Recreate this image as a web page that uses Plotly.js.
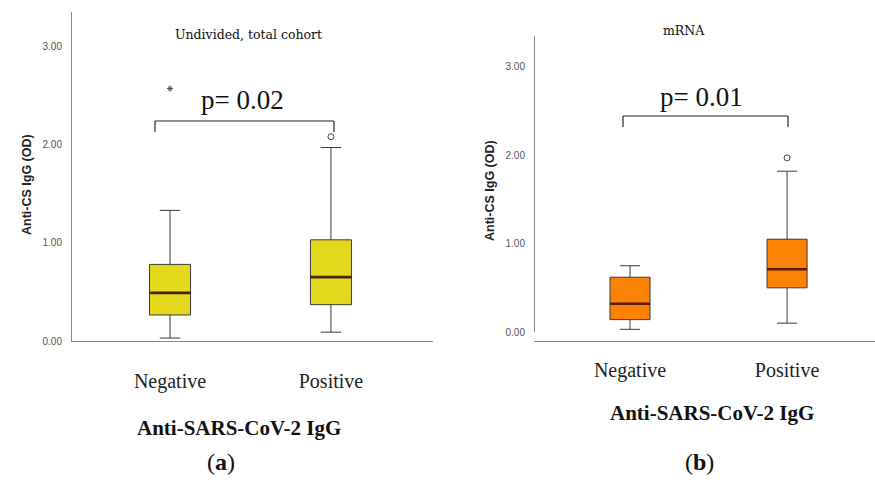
<!DOCTYPE html>
<html>
<head>
<meta charset="utf-8">
<script src="https://cdn.plot.ly/plotly-3.0.1.min.js"></script>
<style>html,body{margin:0;padding:0;background:#fff;}#chart{width:875px;height:480px;}</style>
</head>
<body>
<div id="chart"></div>
<script>
// Categories and tick labels
const categories = ["Negative", "Positive"];
const yTickVals = [0, 1, 2, 3];
const yTickText = ["0.00", "1.00", "2.00", "3.00"];

// Panel (a): Undivided, total cohort
const aLower  = [0.03, 0.09];
const aQ1     = [0.265, 0.37];
const aMedian = [0.49, 0.65];
const aQ3     = [0.78, 1.03];
const aUpper  = [1.33, 1.97];
const aOutlierCircle = [null, 2.08];   // mild outlier (circle)
const aOutlierStar   = [2.57, null];   // extreme outlier (asterisk)

// Panel (b): mRNA
const bLower  = [0.03, 0.10];
const bQ1     = [0.14, 0.50];
const bMedian = [0.32, 0.71];
const bQ3     = [0.62, 1.05];
const bUpper  = [0.75, 1.82];
const bOutlierCircle = [null, 1.97];

const pValues = ["p= 0.02", "p= 0.01"];
const panelTitles = ["Undivided, total cohort", "mRNA"];
const yTitle = "Anti-CS IgG (OD)";
const xTitle = "Anti-SARS-CoV-2 IgG";
const panelLabels = ["(<b>a</b>)", "(<b>b</b>)"];

const xpos = categories.map((c, i) => i);
const BOXW = 0.255;

function boxTrace(q1, med, q3, lo, hi, fill, xa, ya) {
  return {
    type: "box", x: xpos, q1: q1, median: med, q3: q3,
    lowerfence: lo, upperfence: hi,
    width: BOXW, whiskerwidth: 0.5,
    fillcolor: fill, line: {color: "#3a3a3a", width: 1},
    boxpoints: false, hoverinfo: "skip", showlegend: false,
    xaxis: xa, yaxis: ya
  };
}
function medianTrace(med, color, xa, ya) {
  const xs = [], ys = [];
  med.forEach((m, i) => { xs.push(i - BOXW / 2, i + BOXW / 2, null); ys.push(m, m, null); });
  return {type: "scatter", mode: "lines", x: xs, y: ys, line: {color: color, width: 2.6},
          hoverinfo: "skip", showlegend: false, xaxis: xa, yaxis: ya};
}
function pointTrace(vals, symbol, size, xa, ya) {
  return {type: "scatter", mode: "markers", x: xpos, y: vals,
          marker: {symbol: symbol, size: size, color: "#444", line: {color: "#444", width: 1}},
          hoverinfo: "skip", showlegend: false, xaxis: xa, yaxis: ya};
}

const data = [
  boxTrace(aQ1, aMedian, aQ3, aLower, aUpper, "#E6D81C", "x", "y"),
  medianTrace(aMedian, "#3a2c00", "x", "y"),
  pointTrace(aOutlierCircle, "circle-open", 6, "x", "y"),
  pointTrace(aOutlierStar, "asterisk-open", 5, "x", "y"),
  boxTrace(bQ1, bMedian, bQ3, bLower, bUpper, "#FB8204", "x2", "y2"),
  medianTrace(bMedian, "#5a1800", "x2", "y2"),
  pointTrace(bOutlierCircle, "circle-open", 6, "x2", "y2")
];

const catFont = {family: "Liberation Serif, serif", size: 20, color: "#222"};
const yTickFont = {family: "Liberation Sans, Arial, sans-serif", size: 10, color: "#555"};

function xAxis(domain, range, standoff) {
  return {domain: domain, range: range, tickvals: xpos, ticktext: categories,
          showline: true, linecolor: "#8a8a8a", linewidth: 1, showgrid: false, zeroline: false,
          ticks: "", tickfont: catFont, ticklabelstandoff: standoff, fixedrange: true};
}
function yAxis(domain, anchor) {
  return {domain: domain, range: [0, 3.35], tickvals: yTickVals, ticktext: yTickText,
          showline: true, linecolor: "#8a8a8a", linewidth: 1, showgrid: false, zeroline: false,
          ticks: "", tickfont: yTickFont, ticklabelstandoff: 7, anchor: anchor, fixedrange: true};
}

const W = 875, H = 480;
const px = v => v / W, py = v => 1 - v / H;

function bracket(x0, x1, yTop, yBot) {
  return [
    {type: "line", xref: "paper", yref: "paper", x0: px(x0), x1: px(x1), y0: py(yTop), y1: py(yTop), line: {color: "#222", width: 1.2}},
    {type: "line", xref: "paper", yref: "paper", x0: px(x0), x1: px(x0), y0: py(yTop), y1: py(yBot), line: {color: "#222", width: 1.2}},
    {type: "line", xref: "paper", yref: "paper", x0: px(x1), x1: px(x1), y0: py(yTop), y1: py(yBot), line: {color: "#222", width: 1.2}}
  ];
}

function ann(text, x, y, font, extra) {
  return Object.assign({text: text, xref: "paper", yref: "paper", x: px(x), y: py(y),
    xanchor: "center", yanchor: "middle", showarrow: false, font: font}, extra || {});
}

const smallTitleFont = {family: "DejaVu Serif, serif", size: 12.5, color: "#111"};
const pFont = {family: "Liberation Serif, serif", size: 27, color: "#111"};
const yTitleFont = {family: "Liberation Sans, Arial, sans-serif", size: 12.5, color: "#222"};
const xTitleFont = {family: "Liberation Serif, serif", size: 21, color: "#111"};
const labelFont = {family: "Liberation Serif, serif", size: 24, color: "#111"};

const layout = {
  width: W, height: H,
  margin: {l: 0, r: 0, t: 0, b: 0},
  paper_bgcolor: "#fff", plot_bgcolor: "#fff",
  showlegend: false,
  xaxis: xAxis([px(72), px(433)], [-0.609, 1.634], 22),
  yaxis: yAxis([py(341), py(12)], "x"),
  xaxis2: xAxis([px(535), 1], [-0.605, 1.56], 11),
  yaxis2: yAxis([py(332), py(36)], "x2"),
  shapes: [].concat(bracket(155, 334, 121, 132), bracket(623, 788, 116, 127)),
  annotations: [
    ann(panelTitles[0], 248, 35, smallTitleFont),
    ann(panelTitles[1], 684, 30, smallTitleFont),
    ann(pValues[0], 242, 100, pFont),
    ann(pValues[1], 701, 97, pFont),
    ann("<b>" + yTitle + "</b>", 27, 185, yTitleFont, {textangle: -90}),
    ann("<b>" + yTitle + "</b>", 490, 191, yTitleFont, {textangle: -90}),
    ann("<b>" + xTitle + "</b>", 239, 428, xTitleFont),
    ann("<b>" + xTitle + "</b>", 712, 413, xTitleFont),
    ann(panelLabels[0], 221, 462, labelFont),
    ann(panelLabels[1], 699, 462, labelFont)
  ]
};

Plotly.newPlot("chart", data, layout, {displayModeBar: false, staticPlot: true});
</script>
</body>
</html>
